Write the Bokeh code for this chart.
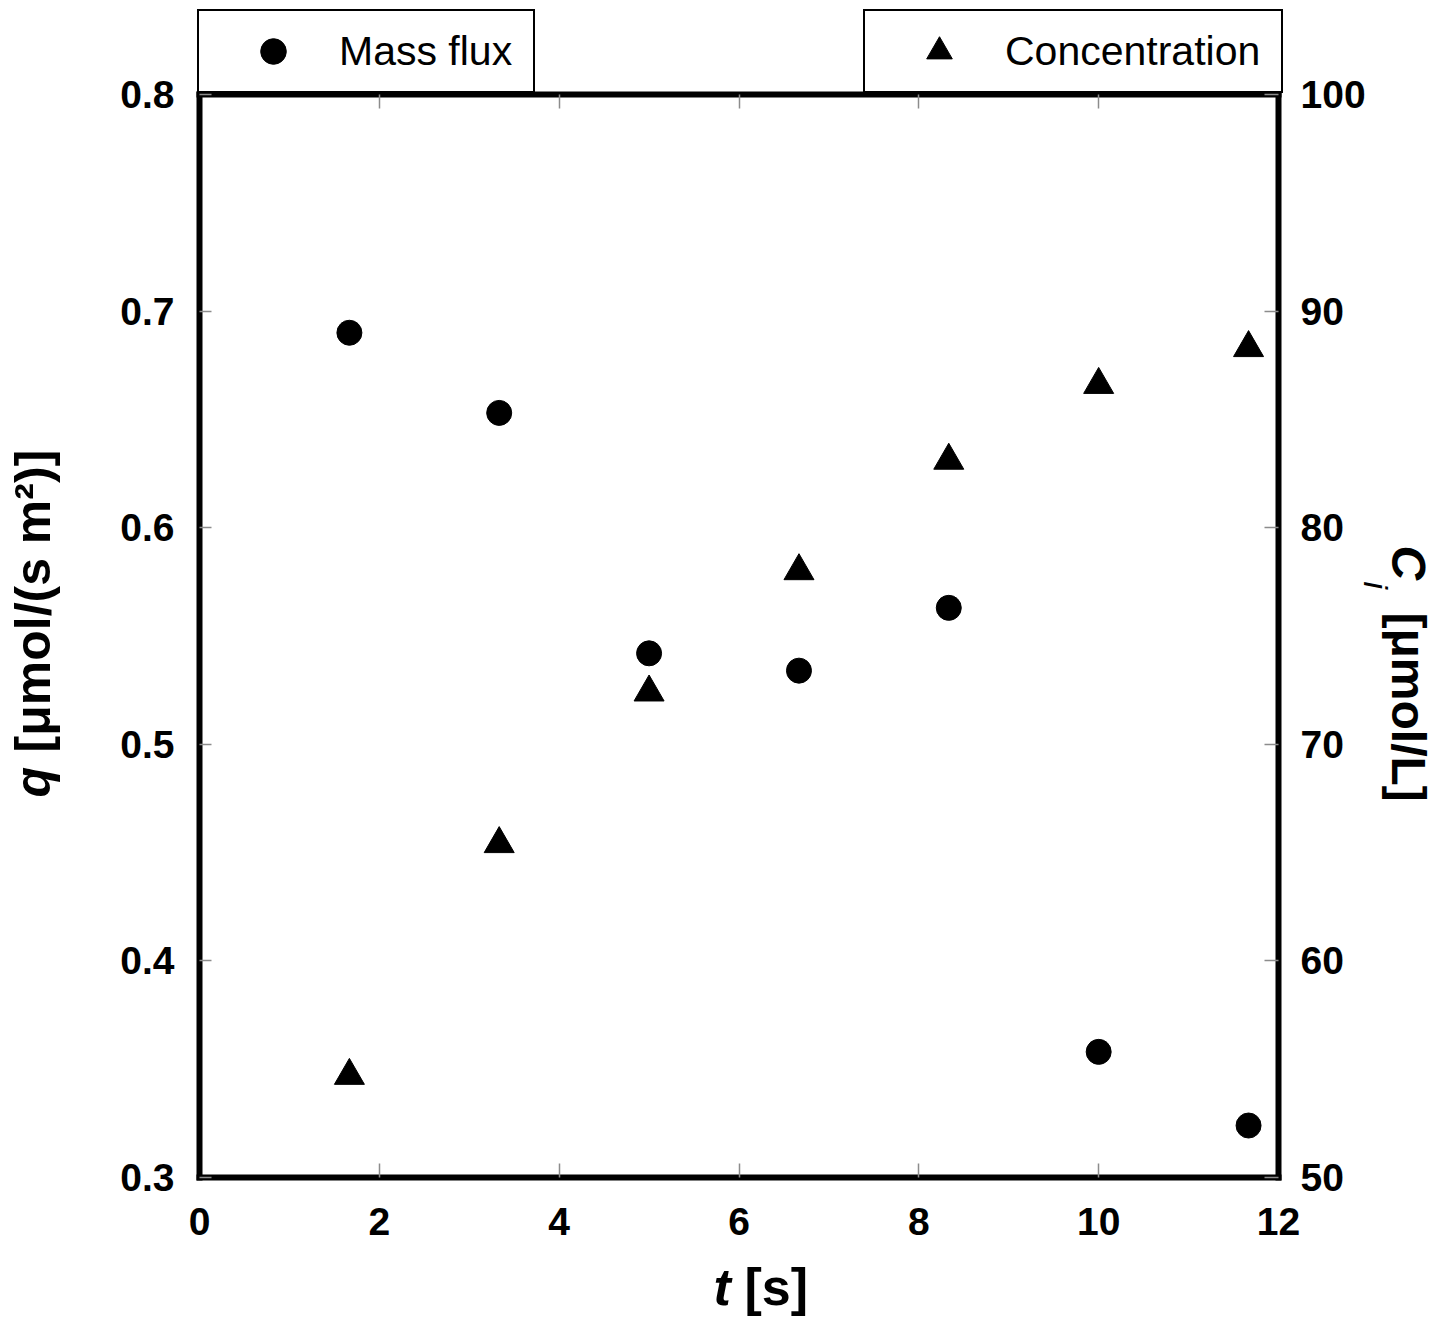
import math
from bokeh.plotting import figure
from bokeh.models import Range1d, LinearAxis, FixedTicker, Legend, LegendItem, Label
from bokeh.embed import file_html
from bokeh.resources import INLINE

# ---- data ----
t_values = [1.667, 3.333, 5.0, 6.667, 8.333, 10.0, 11.667]
mass_flux = [0.690, 0.653, 0.542, 0.534, 0.563, 0.358, 0.324]
concentration = [54.7, 65.4, 72.4, 78.0, 83.1, 86.6, 88.3]
x_ticks = [0, 2, 4, 6, 8, 10, 12]
q_ticks = [0.3, 0.4, 0.5, 0.6, 0.7, 0.8]
c_ticks = [50, 60, 70, 80, 90, 100]
legend_labels = ["Mass flux", "Concentration"]

FONT = "Liberation Sans"

# ---- layout (pixels) ----
W, H = 1437, 1318
FL, FR, FT, FB = 199, 1278, 94, 1177   # plot box edges on the canvas
x0, x1 = 0, 12
q0, q1 = 0.3, 0.8
c0, c1 = 50, 100

xs = (FR - FL) / (x1 - x0)
qs = (FB - FT) / (q1 - q0)
cs = (FB - FT) / (c1 - c0)

p = figure(
    width=W, height=H, min_border=0,
    x_range=Range1d(x0 - FL / xs, x1 + (W - FR) / xs),
    y_range=Range1d(q0 - (H - FB) / qs, q1 + FT / qs),
    x_axis_location=None, y_axis_location=None,
    output_backend="svg", toolbar_location=None,
    background_fill_color="white", border_fill_color="white",
    outline_line_color=None,
)
p.grid.visible = False
p.extra_y_ranges = {"c": Range1d(c0 - (H - FB) / cs, c1 + FT / cs)}

bottom = LinearAxis(fixed_location=q0, bounds=(x0, x1), ticker=FixedTicker(ticks=x_ticks))
top = LinearAxis(fixed_location=q1, bounds=(x0, x1), ticker=FixedTicker(ticks=x_ticks),
                 major_label_overrides={v: "" for v in x_ticks})
left = LinearAxis(fixed_location=x0, bounds=(q0, q1), ticker=FixedTicker(ticks=q_ticks))
right = LinearAxis(fixed_location=x1, y_range_name="c", bounds=(c0, c1),
                   ticker=FixedTicker(ticks=c_ticks))
p.add_layout(bottom, "below")
p.add_layout(top, "above")
p.add_layout(left, "left")
p.add_layout(right, "right")

for ax in [bottom, top, left, right]:
    ax.axis_line_color = "black"
    ax.axis_line_width = 6
    ax.axis_line_cap = "square"
    ax.major_tick_in = 14
    ax.major_tick_out = 0
    ax.major_tick_line_color = "#8c8c8c"
    ax.major_tick_line_width = 1.5
    ax.minor_tick_line_color = None
    ax.major_label_text_font = FONT
    ax.major_label_text_font_style = "bold"
    ax.major_label_text_font_size = "39px"
    ax.major_label_text_color = "black"

bottom.major_label_standoff = 30
left.major_label_standoff = 25
left.major_tick_in = 12
right.major_label_standoff = 22

r_q = p.scatter(t_values, mass_flux, marker="circle", size=25,
                fill_color="black", line_color="black")
r_c = p.scatter(t_values, concentration, marker="triangle", size=30,
                fill_color="black", line_color="black", y_range_name="c")

common = dict(orientation="vertical", padding=8, spacing=0, margin=0,
              glyph_width=132, glyph_height=64, label_standoff=0,
              label_text_font=FONT, label_text_font_size="41px",
              label_text_color="black",
              border_line_color="black", border_line_width=2, border_line_alpha=1.0,
              background_fill_color="white", background_fill_alpha=1.0)

leg1 = Legend(items=[LegendItem(label=legend_labels[0], renderers=[r_q])],
              location=(197, H - 93), label_width=186, **common)
leg2 = Legend(items=[LegendItem(label=legend_labels[1], renderers=[r_c])],
              location=(863, H - 93), label_width=268, **common)
p.add_layout(leg1)
p.add_layout(leg2)

def lab(text, x, y, angle=0.0, style="bold", size=48):
    # x, y: canvas pixels (from top-left) of the start of the text baseline
    sh = 0.4 * size  # baseline correction, towards the top of the glyphs
    if angle == 0.0:
        y = y - sh
    elif angle > 0:
        x = x - sh
    else:
        x = x + sh
    p.add_layout(Label(text=text, x=x, y=H - y, x_units="screen", y_units="screen",
                       angle=angle, text_font=FONT, text_font_size=f"{size}px",
                       text_font_style=style, text_color="black",
                       text_align="left", text_baseline="alphabetic"))

# bottom axis title: t [s]
lab("t", 713, 1307, style="bold italic", size=52)
lab("[s]", 744, 1307, size=52)
# left axis title: q [μmol/(s m²)]
lab("q", 52, 797, angle=math.pi / 2, style="bold italic", size=50)
lab("[μmol/(s m²)]", 52, 752, angle=math.pi / 2, size=50)
# right axis title: C_i [μmol/L]
lab("C", 1389, 545, angle=-math.pi / 2, style="bold italic", size=48)
lab("i", 1362, 581, angle=-math.pi / 2, style="italic", size=34)
lab("[μmol/L]", 1389, 612, angle=-math.pi / 2, size=48)

open("out.html", "w").write(file_html(p, INLINE))
